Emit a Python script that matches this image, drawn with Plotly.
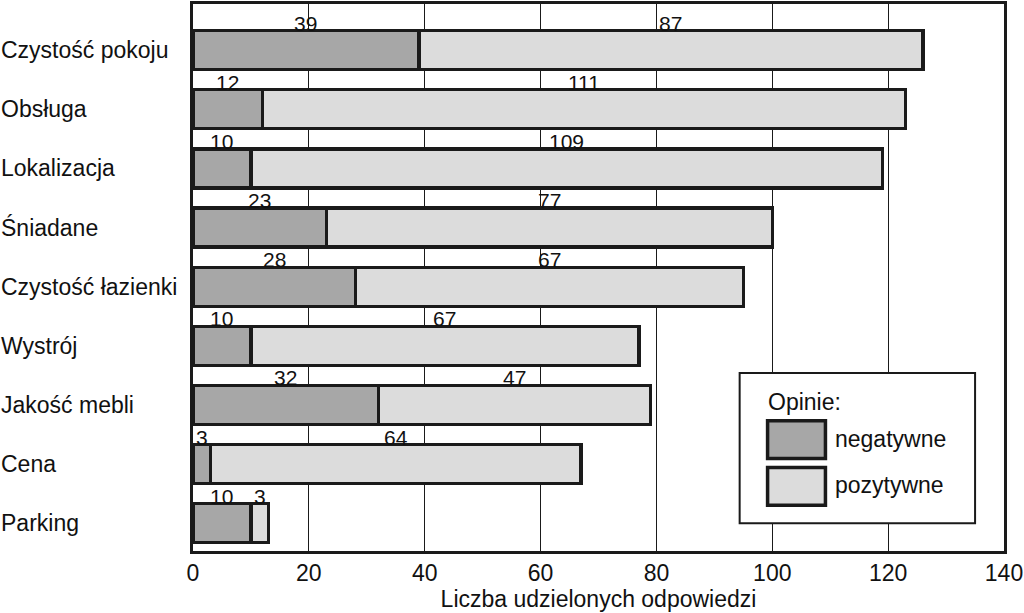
import plotly.graph_objects as go

categories = ["Czystość pokoju", "Obsługa", "Lokalizacja", "Śniadane", "Czystość łazienki",
              "Wystrój", "Jakość mebli", "Cena", "Parking"]
negatywne = [39, 12, 10, 23, 28, 10, 32, 3, 10]
pozytywne = [87, 111, 109, 77, 67, 67, 47, 64, 3]
x_ticks = [0, 20, 40, 60, 80, 100, 120, 140]
x_title = "Liczba udzielonych odpowiedzi"
legend_title = "Opinie:"
series_names = ["negatywne", "pozytywne"]

W, H = 1024, 613
L, R, T, B = 193, 18, 1, 62
PW, PH = W - L - R, H - T - B
FONT = "Liberation Sans, Arial, sans-serif"
C_NEG = "#a7a7a7"
C_POS = "#dcdcdc"
C_LINE = "#1a1a1a"
FS = 23


def px(x):
    return (x - L) / PW


def py(y):
    return 1 - (y - T) / PH


fig = go.Figure()
fig.add_trace(go.Bar(y=categories, x=negatywne, orientation="h", name=series_names[0],
                     marker=dict(color=C_NEG, line=dict(color=C_LINE, width=3.3)),
                     width=0.66, showlegend=False))
fig.add_trace(go.Bar(y=categories, x=pozytywne, orientation="h", name=series_names[1],
                     marker=dict(color=C_POS, line=dict(color=C_LINE, width=3.3)),
                     width=0.66, showlegend=False))

annotations = []
# category labels, left aligned at the page edge
for c in categories:
    annotations.append(dict(xref="paper", yref="y", x=px(-1), y=c, text=c, showarrow=False,
                            xanchor="left", yanchor="middle",
                            font=dict(family=FONT, size=FS, color="#111")))
# value labels above each segment
for c, n, p in zip(categories, negatywne, pozytywne):
    for v, mid in ((n, n / 2), (p, n + p / 2)):
        annotations.append(dict(xref="x", yref="y", x=mid, y=c, text=str(v), showarrow=False,
                                xanchor="center", yanchor="middle", yshift=27,
                                font=dict(family=FONT, size=21, color="#111")))

# legend drawn manually
shapes = [
    dict(type="rect", xref="paper", yref="paper", x0=px(741), x1=px(977), y0=py(523), y1=py(372),
         fillcolor="white", line=dict(color=C_LINE, width=2), layer="above"),
    dict(type="rect", xref="paper", yref="paper", x0=px(769), x1=px(827), y0=py(458), y1=py(420),
         fillcolor=C_NEG, line=dict(color=C_LINE, width=3.5), layer="above"),
    dict(type="rect", xref="paper", yref="paper", x0=px(769), x1=px(827), y0=py(505), y1=py(467),
         fillcolor=C_POS, line=dict(color=C_LINE, width=3.5), layer="above"),
]
annotations.append(dict(xref="paper", yref="paper", x=px(767), y=py(401), text=legend_title,
                        showarrow=False, xanchor="left", yanchor="middle",
                        font=dict(family=FONT, size=FS, color="#111")))
annotations.append(dict(xref="paper", yref="paper", x=px(835), y=py(438), text=series_names[0],
                        showarrow=False, xanchor="left", yanchor="middle",
                        font=dict(family=FONT, size=FS, color="#111")))
annotations.append(dict(xref="paper", yref="paper", x=px(835), y=py(485), text=series_names[1],
                        showarrow=False, xanchor="left", yanchor="middle",
                        font=dict(family=FONT, size=FS, color="#111")))

fig.update_layout(
    barmode="stack",
    width=W, height=H,
    margin=dict(l=L, r=R, t=T, b=B, pad=0),
    paper_bgcolor="white", plot_bgcolor="white",
    font=dict(family=FONT, size=FS, color="#111"),
    annotations=annotations,
    shapes=shapes,
    xaxis=dict(range=[0, 140], tickvals=x_ticks, ticktext=[str(t) for t in x_ticks],
               showgrid=True, gridcolor=C_LINE, gridwidth=1.3, zeroline=False,
               showline=True, linecolor=C_LINE, linewidth=2.5, mirror=True, ticks="",
               tickfont=dict(family=FONT, size=FS), ticklabelstandoff=0,
               ticklabeloverflow="allow",
               title=dict(text=x_title, font=dict(family=FONT, size=FS), standoff=0)),
    yaxis=dict(type="category", categoryorder="array", categoryarray=categories,
               range=[8.47, -0.78], showticklabels=False, showgrid=False, zeroline=False,
               showline=True, linecolor=C_LINE, linewidth=2.5, mirror=True, ticks=""),
)

fig.write_html("out.html", config={"displayModeBar": False},
               post_script="document.body.style.margin='0';document.body.style.overflow='hidden';")
